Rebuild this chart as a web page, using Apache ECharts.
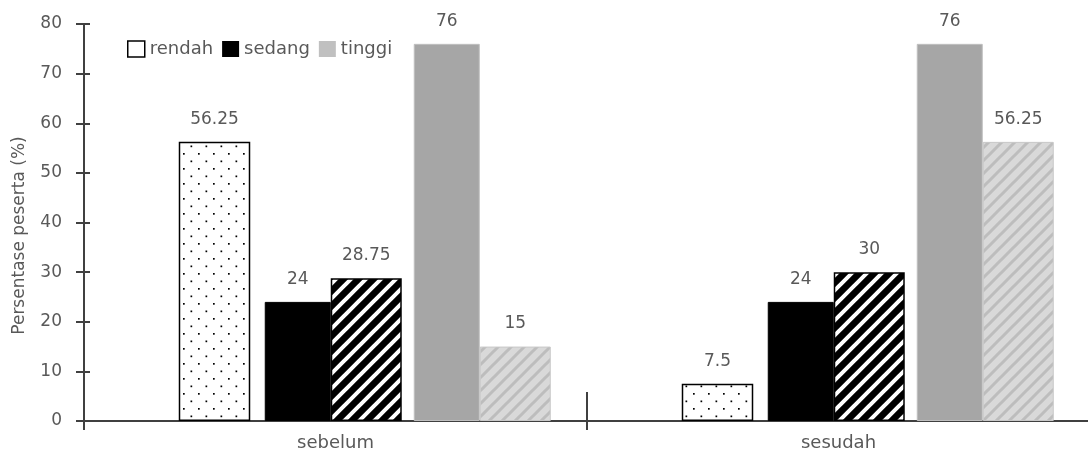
<!DOCTYPE html>
<html>
<head>
<meta charset="utf-8">
<script src="https://cdn.jsdelivr.net/npm/echarts@6/dist/echarts.min.js"></script>
<style>
html,body{margin:0;padding:0;background:#fff;}
#chart{width:1088px;height:457px;}
</style>
</head>
<body>
<div id="chart"></div>
<script>
// ---- data ----
const categories = ['sebelum', 'sesudah'];
const rendah = [56.25, 7.5];
const sedang = [24, 24];
const sedangArsir = [28.75, 30];
const tinggi = [76, 76];
const tinggiArsir = [15, 56.25];
const legendNames = ['rendah', 'sedang', 'tinggi'];
const yMin = 0, yMax = 80, yStep = 10;
const yTitle = 'Persentase peserta (%)';

// ---- patterns ----
function dotPattern() {
  const c = document.createElement('canvas');
  c.width = 15; c.height = 15;
  const g = c.getContext('2d');
  g.fillStyle = '#ffffff'; g.fillRect(0, 0, 15, 15);
  g.fillStyle = '#000000';
  g.fillRect(3, 3, 1.7, 1.7);
  g.fillRect(10.5, 10.5, 1.7, 1.7);
  return c;
}
function hatchPattern(bg, fg, size, lw) {
  const c = document.createElement('canvas');
  c.width = size; c.height = size;
  const g = c.getContext('2d');
  g.fillStyle = bg; g.fillRect(0, 0, size, size);
  g.strokeStyle = fg; g.lineWidth = lw;
  g.beginPath();
  g.moveTo(-1, size + 1); g.lineTo(size + 1, -1);
  g.moveTo(-size / 2 - 1, size / 2 + 1); g.lineTo(size / 2 + 1, -size / 2 - 1);
  g.moveTo(size / 2 - 1, size * 1.5 + 1); g.lineTo(size * 1.5 + 1, size / 2 - 1);
  g.stroke();
  return c;
}

const FONT = 'DejaVu Sans';
const TXT = '#595959';
const AX = '#404040';

const labelCfg = {
  show: true, position: 'top', distance: 14,
  color: TXT, fontSize: 17, fontFamily: FONT
};

function spacer(name, w) {
  return { type: 'bar', name: name, data: [], barWidth: w, barGap: '0%', silent: true };
}

const chart = echarts.init(document.getElementById('chart'), null, { renderer: 'canvas' });
chart.setOption({
  animation: false,
  backgroundColor: '#ffffff',
  textStyle: { fontFamily: FONT },
  grid: { left: 84, right: -2, top: 24, bottom: 36, containLabel: false, outerBoundsMode: 'none' },
  legend: {
    left: 122, top: 35,
    itemWidth: 17, itemHeight: 16, itemGap: 9,
    icon: 'rect',
    textStyle: { color: TXT, fontSize: 18, fontFamily: FONT },
    data: [
      { name: legendNames[0], itemStyle: { color: '#ffffff', borderColor: '#000000', borderWidth: 1.5 } },
      { name: legendNames[1], itemStyle: { color: '#000000', borderWidth: 0 } },
      { name: legendNames[2], itemStyle: { color: '#c0c0c0', borderWidth: 0 } }
    ]
  },
  xAxis: [
    {
      type: 'category', data: categories, position: 'bottom',
      axisLine: { show: true, lineStyle: { color: AX, width: 2 } },
      axisTick: { show: true, length: 9, lineStyle: { color: AX, width: 2 } },
      axisLabel: { color: TXT, fontSize: 18, fontFamily: FONT, margin: 13 }
    },
    {
      type: 'category', data: categories, position: 'bottom',
      axisLine: { show: false },
      axisTick: { show: true, inside: true, length: 29, lineStyle: { color: AX, width: 2 } },
      axisLabel: { show: false }
    }
  ],
  yAxis: [
    {
      type: 'value', min: yMin, max: yMax, interval: yStep, position: 'left',
      name: yTitle, nameLocation: 'middle', nameRotate: 90, nameGap: 56,
      nameTextStyle: { color: TXT, fontSize: 17, fontFamily: FONT, padding: [0, 26, 0, 0] },
      axisLine: { show: true, lineStyle: { color: AX, width: 2 } },
      axisTick: { show: true, length: 8, lineStyle: { color: AX, width: 2 } },
      axisLabel: { color: TXT, fontSize: 17, fontFamily: FONT, margin: 22 },
      splitLine: { show: false }
    },
    {
      type: 'value', min: yMin, max: yMax, interval: yStep, position: 'left',
      axisLine: { show: false },
      axisTick: { show: true, inside: true, length: 6, lineStyle: { color: AX, width: 2 } },
      axisLabel: { show: false },
      splitLine: { show: false }
    }
  ],
  series: [
    spacer('_pad', 58.5),
    {
      type: 'bar', name: 'rendah', data: rendah, barWidth: 71.5, barGap: '0%',
      itemStyle: { color: { image: dotPattern(), repeat: 'repeat' }, borderColor: '#000000', borderWidth: 1.5 },
      label: labelCfg
    },
    spacer('_gap1', 14.5),
    {
      type: 'bar', name: 'sedang', data: sedang, barWidth: 66, barGap: '0%',
      itemStyle: { color: '#000000', borderColor: '#000000', borderWidth: 1 },
      label: labelCfg
    },
    {
      type: 'bar', name: 'sedang (arsir)', data: sedangArsir, barWidth: 71, barGap: '0%',
      itemStyle: { color: { image: hatchPattern('#000000', '#ffffff', 15, 4), repeat: 'repeat' }, borderColor: '#000000', borderWidth: 1.5 },
      label: labelCfg
    },
    spacer('_gap2', 12),
    {
      type: 'bar', name: 'tinggi', data: tinggi, barWidth: 66, barGap: '0%',
      itemStyle: { color: '#a6a6a6', borderColor: '#bfbfbf', borderWidth: 1 },
      label: labelCfg
    },
    {
      type: 'bar', name: 'tinggi (arsir)', data: tinggiArsir, barWidth: 71, barGap: '0%',
      itemStyle: { color: { image: hatchPattern('#d9d9d9', '#bdbdbd', 13, 3), repeat: 'repeat' }, borderColor: '#c8c8c8', borderWidth: 1 },
      label: labelCfg
    }
  ]
});
</script>
</body>
</html>
